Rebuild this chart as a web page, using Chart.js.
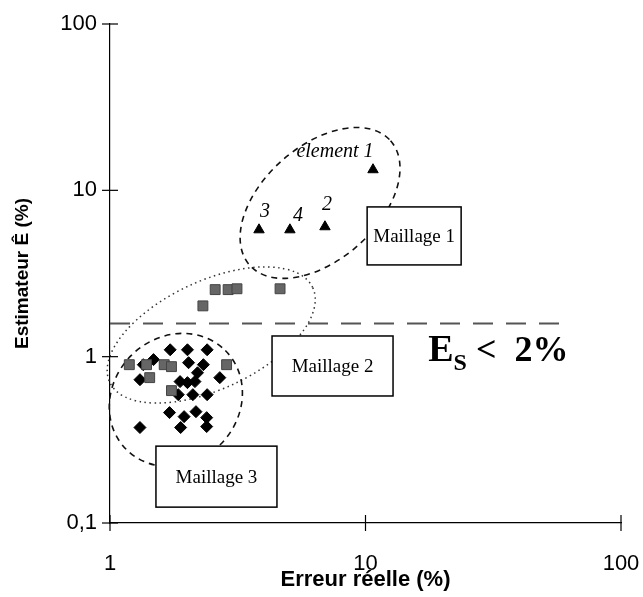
<!DOCTYPE html>
<html><head><meta charset="utf-8">
<script src="https://cdn.jsdelivr.net/npm/chart.js@4.4.0/dist/chart.umd.min.js"></script>
<style>html,body{margin:0;padding:0;background:#fff}</style>
</head><body>
<canvas id="c" width="643" height="597"></canvas>
<script>
// ---- data ----
const xTicks = [1, 10, 100];
const yTicks = [0.1, 1, 10, 100];
const yTickLabels = ['0,1', '1', '10', '100'];

// Maillage 1 (triangles)
const m1X = [10.7, 3.83, 5.06, 6.94];
const m1Y = [13.3, 5.79, 5.79, 6.04];
const m1Labels = ['element 1', '3', '4', '2'];

// Maillage 2 (squares)
const m2X = [2.58, 2.90, 3.14, 4.63, 2.31, 1.19, 1.39, 1.63, 1.74, 1.43, 1.74, 2.86];
const m2Y = [2.53, 2.53, 2.56, 2.56, 2.02, 0.895, 0.895, 0.895, 0.871, 0.748, 0.625, 0.895];

// Maillage 3 (diamonds)
const m3X = [1.72, 2.01, 2.40, 1.48, 1.35, 2.03, 2.32, 1.31, 2.69, 2.20, 1.88, 2.01, 2.15, 1.85, 2.11, 2.40, 1.71, 1.95, 2.17, 2.39, 1.89, 2.39, 1.31];
const m3Y = [1.10, 1.10, 1.10, 0.96, 0.895, 0.92, 0.895, 0.727, 0.748, 0.80, 0.708, 0.698, 0.708, 0.591, 0.591, 0.591, 0.461, 0.436, 0.467, 0.430, 0.375, 0.380, 0.375];

// threshold line
const thresholdY = 1.58;
const thresholdXEnd = 60;

// ---- annotation layout (data-anchored) ----
const ellipses = [
  {x: 6.64, y: 8.40, rx: 94, ry: 57, rot: -41.4, dash: [6, 5], width: 1.6, color: '#111'},
  {x: 2.49, y: 1.35, rx: 112, ry: 54, rot: -25, dash: [1.5, 3.5], width: 1.5, color: '#333'},
  {x: 1.81, y: 0.549, rx: 70, ry: 63, rot: -45, dash: [6, 5], width: 1.6, color: '#111'}
];
const boxes = [
  {x: 15.5, y: 5.32, w: 94, h: 58, text: 'Maillage 1'},
  {x: 7.43, y: 0.879, w: 121, h: 60, text: 'Maillage 2'},
  {x: 2.61, y: 0.19, w: 121, h: 61, text: 'Maillage 3'}
];
const labelOffsets = [[-38, -18], [6, -18], [8, -14], [2, -22]];
const esAnchor = {x: 17.6, y: 0.946};

const toPts = (xs, ys) => xs.map((x, i) => ({x: x, y: ys[i]}));

const annot = {
  id: 'annot',
  beforeDatasetsDraw(chart) {
    const ctx = chart.ctx, xs = chart.scales.x, ys = chart.scales.y;
    ctx.save();
    ctx.strokeStyle = '#555';
    ctx.lineWidth = 2;
    ctx.setLineDash([20, 13]);
    const ty = ys.getPixelForValue(thresholdY);
    ctx.beginPath();
    ctx.moveTo(xs.getPixelForValue(1), ty);
    ctx.lineTo(xs.getPixelForValue(thresholdXEnd), ty);
    ctx.stroke();
    ellipses.forEach(e => {
      ctx.strokeStyle = e.color;
      ctx.lineWidth = e.width;
      ctx.setLineDash(e.dash);
      ctx.beginPath();
      ctx.ellipse(xs.getPixelForValue(e.x), ys.getPixelForValue(e.y), e.rx, e.ry, e.rot * Math.PI / 180, 0, Math.PI * 2);
      ctx.stroke();
    });
    ctx.restore();
  },
  afterDatasetsDraw(chart) {
    const ctx = chart.ctx, xs = chart.scales.x, ys = chart.scales.y;
    ctx.save();
    ctx.setLineDash([]);
    boxes.forEach(b => {
      const cx = xs.getPixelForValue(b.x), cy = ys.getPixelForValue(b.y);
      ctx.fillStyle = '#fff';
      ctx.fillRect(cx - b.w / 2, cy - b.h / 2, b.w, b.h);
      ctx.strokeStyle = '#000';
      ctx.lineWidth = 1.5;
      ctx.strokeRect(cx - b.w / 2, cy - b.h / 2, b.w, b.h);
      ctx.fillStyle = '#000';
      ctx.font = '19px "Liberation Serif", "Times New Roman", serif';
      ctx.textAlign = 'center';
      ctx.textBaseline = 'middle';
      ctx.fillText(b.text, cx, cy + 1);
    });
    ctx.font = 'italic 20px "Liberation Serif", "Times New Roman", serif';
    ctx.textAlign = 'center';
    ctx.textBaseline = 'middle';
    m1Labels.forEach((t, i) => {
      const px = xs.getPixelForValue(m1X[i]) + labelOffsets[i][0];
      const py = ys.getPixelForValue(m1Y[i]) + labelOffsets[i][1];
      ctx.fillText(t, px, py);
    });
    let ex = xs.getPixelForValue(esAnchor.x), ey = ys.getPixelForValue(esAnchor.y);
    ctx.textAlign = 'left';
    ctx.textBaseline = 'alphabetic';
    ctx.font = 'bold 38px "Liberation Serif", "Times New Roman", serif';
    ctx.fillText('E', ex, ey);
    ex += ctx.measureText('E').width;
    ctx.font = 'bold 24px "Liberation Serif", "Times New Roman", serif';
    ctx.fillText('S', ex, ey + 9);
    ex += ctx.measureText('S').width;
    ctx.font = 'bold 36px "Liberation Serif", "Times New Roman", serif';
    ctx.fillText(' <  2%', ex, ey);
    ctx.restore();
  },
  afterDraw(chart) {
    const ctx = chart.ctx, xs = chart.scales.x, ys = chart.scales.y, a = chart.chartArea;
    ctx.save();
    ctx.strokeStyle = '#000';
    ctx.lineWidth = 1.2;
    xTicks.forEach(v => {
      const px = xs.getPixelForValue(v);
      ctx.beginPath(); ctx.moveTo(px, a.bottom - 8); ctx.lineTo(px, a.bottom + 8); ctx.stroke();
    });
    yTicks.forEach(v => {
      const py = ys.getPixelForValue(v);
      ctx.beginPath(); ctx.moveTo(a.left - 8, py); ctx.lineTo(a.left + 8, py); ctx.stroke();
    });
    ctx.restore();
  }
};

new Chart(document.getElementById('c'), {
  type: 'scatter',
  data: {
    datasets: [
      {label: 'Maillage 1', data: toPts(m1X, m1Y), pointStyle: 'triangle', pointRadius: 6,
       backgroundColor: '#000', borderColor: '#000', borderWidth: 1},
      {label: 'Maillage 2', data: toPts(m2X, m2Y), pointStyle: 'rect', pointRadius: 7,
       backgroundColor: '#666', borderColor: '#444', borderWidth: 1},
      {label: 'Maillage 3', data: toPts(m3X, m3Y), pointStyle: 'rectRot', pointRadius: 6,
       backgroundColor: '#000', borderColor: '#000', borderWidth: 1}
    ]
  },
  options: {
    responsive: false,
    animation: false,
    devicePixelRatio: 1,
    layout: {padding: {top: 24, right: 22, left: 0, bottom: 0}},
    plugins: {legend: {display: false}, tooltip: {enabled: false}},
    scales: {
      x: {
        type: 'logarithmic', min: 1, max: 100, position: 'bottom',
        grid: {display: false, drawTicks: false},
        border: {display: true, color: '#000', width: 1.2},
        afterBuildTicks: s => { s.ticks = xTicks.map(v => ({value: v})); },
        afterFit: s => { s.height = 74; s.paddingLeft = 0; s.paddingRight = 0; },
        ticks: {
          autoSkip: false, maxRotation: 0, padding: 28, color: '#000',
          font: {family: '"Liberation Sans", Arial, sans-serif', size: 22},
          callback: v => String(v)
        },
        title: {display: true, text: 'Erreur réelle (%)', color: '#000',
          font: {family: '"Liberation Sans", Arial, sans-serif', size: 22, weight: 'bold'},
          padding: {top: 0, bottom: 4}}
      },
      y: {
        type: 'logarithmic', min: 0.1, max: 100,
        grid: {display: false, drawTicks: false},
        border: {display: true, color: '#000', width: 1.2},
        afterBuildTicks: s => { s.ticks = yTicks.map(v => ({value: v})); },
        afterFit: s => { s.width = 110; s.paddingTop = 0; s.paddingBottom = 0; },
        ticks: {
          autoSkip: false, padding: 13, color: '#000',
          font: {family: '"Liberation Sans", Arial, sans-serif', size: 22},
          callback: v => yTickLabels[yTicks.indexOf(v)]
        },
        title: {display: true, text: 'Estimateur Ê (%)', color: '#000',
          font: {family: '"Liberation Sans", Arial, sans-serif', size: 19, weight: 'bold'},
          padding: {top: 11, bottom: 0}}
      }
    }
  },
  plugins: [annot]
});
</script>
</body></html>
